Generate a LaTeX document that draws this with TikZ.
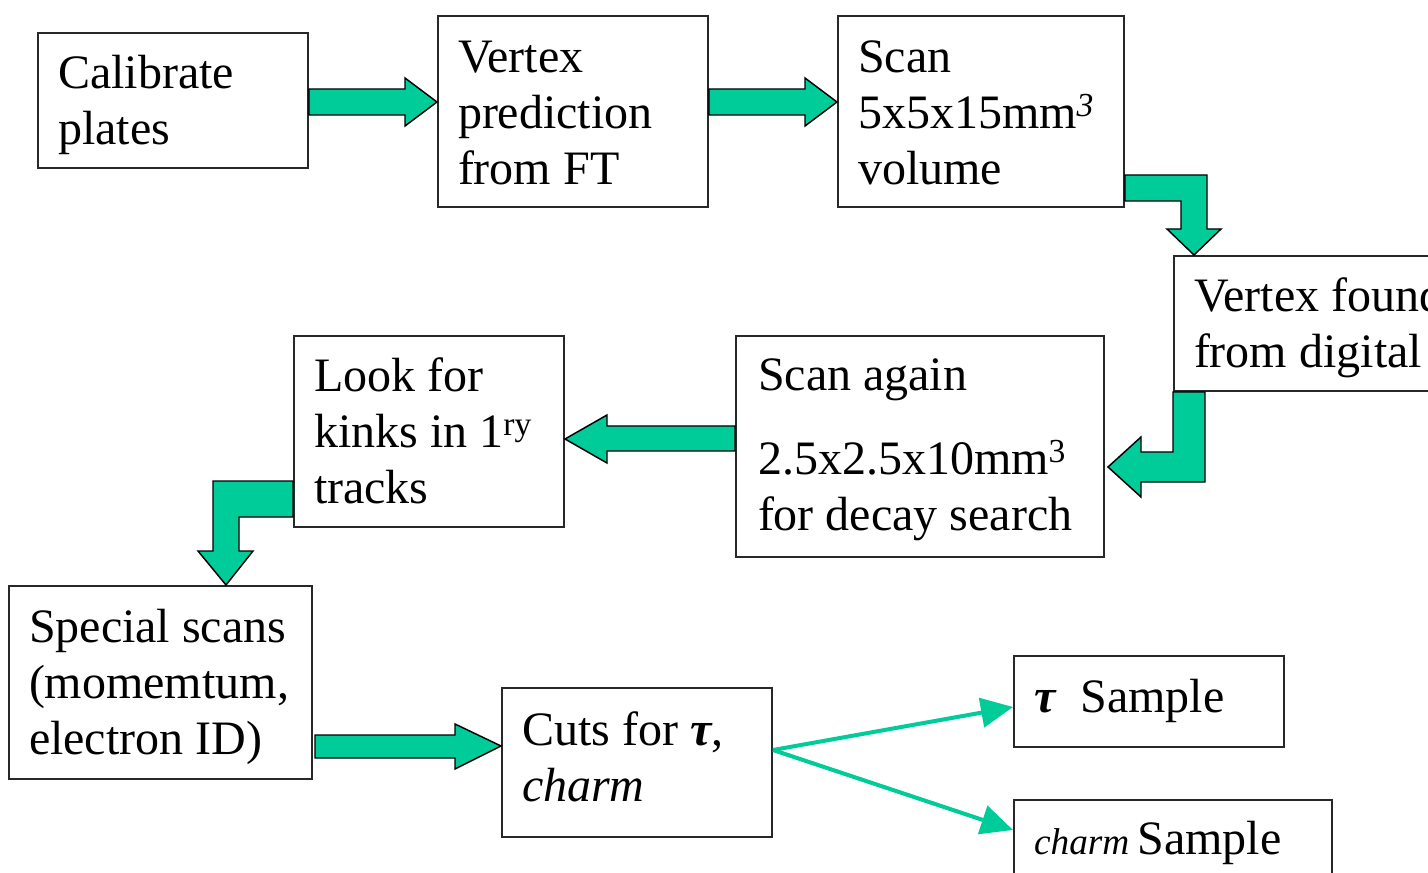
\documentclass[tikz,border=0pt]{standalone}
\usepackage{fontspec}
\setmainfont{Liberation Serif}
\usetikzlibrary{arrows.meta,calc}
\definecolor{flowgreen}{RGB}{0,204,153}
\definecolor{boxline}{RGB}{40,40,40}
\newcommand{\tauit}{{\bfseries\itshape τ}}
\newcommand{\tightspaces}{\spaceskip=0.25em\relax}
\tikzset{
  box/.style={draw=boxline, line width=1.5pt, anchor=north west, inner xsep=15pt,
    inner ysep=0pt, font=\fontsize{36pt}{42pt}\selectfont,
    execute at begin node=\tightspaces},
  barrow/.style={fill=flowgreen, draw=black, line width=1.1pt, line join=miter},
  thinarrow/.style={draw=flowgreen, line width=3pt,
    -{Triangle[length=24pt,width=22pt]}},
}
\begin{document}
\begin{tikzpicture}[x=0.75pt,y=-0.75pt]
\useasboundingbox (0,0) rectangle (1428,873);
\clip (0,0) rectangle (1428,873);

% process boxes (text width = box width - 30pt)
\node[box, text width=172.5pt, text height=42pt, text depth=59.25pt] (calib) at (37,32)
  {Calibrate\\plates};
\node[box, text width=172.5pt, text height=42.75pt, text depth=100.5pt] (pred) at (437,15)
  {Vertex\\prediction\\from FT};
\node[box, text width=184.5pt, text height=42.75pt, text depth=100.5pt] (scan) at (837,15)
  {Scan\\5x5x15mm\textsuperscript{\itshape 3}\\volume};
\node[box, text width=217.5pt, text height=42pt, text depth=59.25pt] (found) at (1173,255)
  {Vertex found\\from digital};
\node[box, inner xsep=16.5pt, text width=243pt, text height=41.25pt, text depth=124.5pt] (again) at (735,335)
  {Scan again\\[21pt]2.5x2.5x10mm\textsuperscript{3}\\for decay search};
\node[box, text width=172.5pt, text height=42pt, text depth=101.25pt] (kinks) at (293,335)
  {Look for\\kinks in 1\textsuperscript{ry}\\tracks};
\node[box, text width=197.25pt, text height=42pt, text depth=102.75pt] (special) at (8,585)
  {Special scans\\(momemtum,\\electron ID)};
\node[box, text width=172.5pt, text height=42.75pt, text depth=69pt] (cuts) at (501,687)
  {Cuts for \tauit,\\\textit{charm}};
\node[box, text width=172.5pt, text height=42pt, text depth=26.25pt] (tausample) at (1013,655)
  {\tauit\hspace{19pt}Sample};
\node[box, text width=208.5pt, text height=40.5pt, text depth=49.5pt] (charmsample) at (1013,799)
  {{\fontsize{28pt}{32pt}\selectfont\itshape charm}\hspace{6pt}Sample};

% block arrows along the scanning chain
\draw[barrow] (calib.east |- 0,89) -- (405,89) -- (405,78) -- (pred.west |- 0,102)
  -- (405,126) -- (405,115) -- (calib.east |- 0,115) -- cycle;
\draw[barrow] (pred.east |- 0,89) -- (805,89) -- (805,78) -- (scan.west |- 0,102)
  -- (805,126) -- (805,115) -- (pred.east |- 0,115) -- cycle;
\draw[barrow] (scan.east |- 0,175) -- (1207,175) -- (1207,229) -- (1221,229)
  -- (1194,0 |- found.north) -- (1167,229) -- (1181,229) -- (1181,201)
  -- (scan.east |- 0,201) -- cycle;
\draw[barrow] (1173,0 |- found.south) -- (1205,0 |- found.south) -- (1205,482)
  -- (1141,482) -- (1141,497) -- (1108,467) -- (1141,437) -- (1141,452)
  -- (1173,452) -- cycle;
\draw[barrow] (again.west |- 0,426) -- (607,426) -- (607,415) -- (kinks.east |- 0,439)
  -- (607,463) -- (607,451) -- (again.west |- 0,451) -- cycle;
\draw[barrow] (kinks.west |- 0,481) -- (213,481) -- (213,551) -- (198,551)
  -- (226,0 |- special.north) -- (253,551) -- (239,551) -- (239,517)
  -- (kinks.west |- 0,517) -- cycle;
\draw[barrow] (315,735) -- (455,735) -- (455,724) -- (cuts.west |- 0,746)
  -- (455,769) -- (455,758) -- (315,758) -- cycle;

% split into the two samples
\coordinate (fork) at (cuts.east |- 0,750);
\draw[thinarrow] (fork) -- (tausample.west |- 0,707);
\draw[thinarrow] (fork) -- (charmsample.west |- 0,830);
\end{tikzpicture}
\end{document}
